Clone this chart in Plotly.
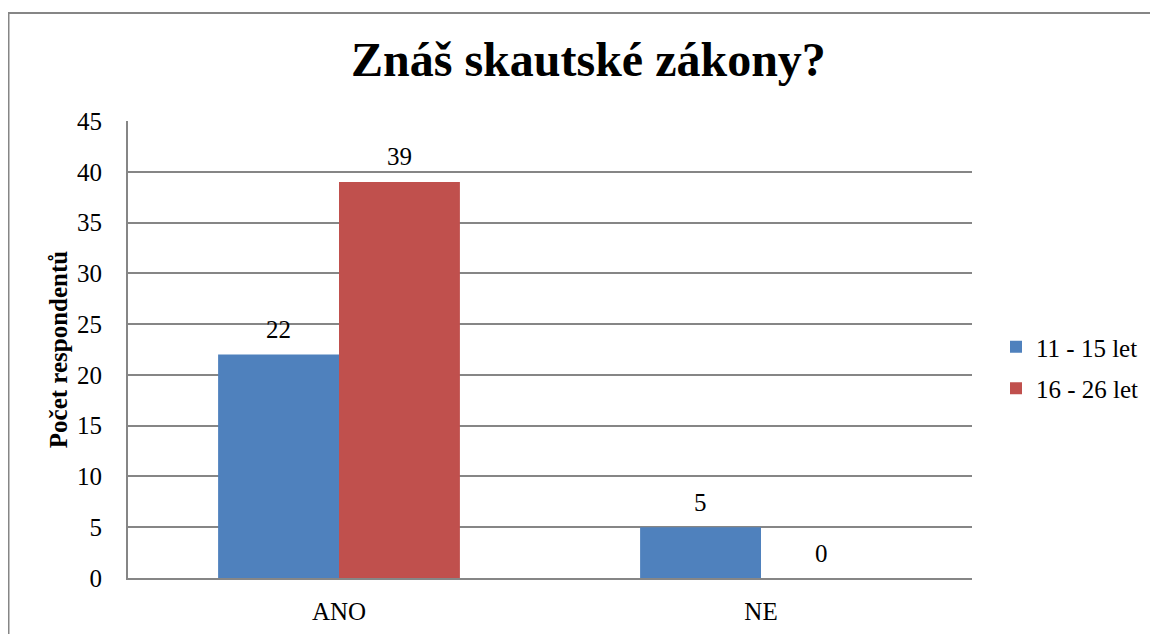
import plotly.graph_objects as go

categories = ["ANO", "NE"]
series_names = ["11 - 15 let", "16 - 26 let"]
values_11_15 = [22, 5]
values_16_26 = [39, 0]
colors = ["#4F81BD", "#C0504D"]
y_ticks = [0, 5, 10, 15, 20, 25, 30, 35, 40, 45]

FONT = "Liberation Serif, Times New Roman, serif"
# page has an 8px body margin: figure occupies page x 8..1158, y 8..634
W, H = 1150, 626
L, R, T, B = 120, 186, 113, 56
pw, ph = W - L - R, H - T - B


def px_x(page_x):
    return (page_x - 8 - L) / pw


def px_y(page_y):
    return (H - B - (page_y - 8)) / ph


fig = go.Figure()
all_series = [values_11_15, values_16_26]
for i, (name, vals, col) in enumerate(zip(series_names, all_series, colors)):
    fig.add_trace(go.Bar(
        x=categories, y=vals, name=name, legendgroup=name,
        marker=dict(color=col, line=dict(width=0)),
    ))

annotations = []
bar_px = 121
for i, vals in enumerate(all_series):
    shift = (i - 0.5) * bar_px
    for cat, v in zip(categories, vals):
        annotations.append(dict(
            x=cat, y=v, xref="x", yref="y", text=str(v), showarrow=False,
            xshift=shift, yshift=25, xanchor="center", yanchor="middle",
            font=dict(family=FONT, size=25, color="black")))

annotations.append(dict(text="<b>Znáš skautské zákony?</b>", xref="paper", yref="paper",
                        x=px_x(588), y=px_y(59), xanchor="center", yanchor="middle",
                        showarrow=False, font=dict(family=FONT, size=48, color="black")))

fig.update_layout(
    width=W, height=H,
    margin=dict(l=L, r=R, t=T, b=B, autoexpand=False),
    paper_bgcolor="white", plot_bgcolor="white",
    barmode="group", bargap=0.427, bargroupgap=0,
    font=dict(family=FONT, color="black", size=25),
    showlegend=True,
    legend=dict(x=px_x(996), y=px_y(324), xanchor="left", yanchor="top",
                font=dict(family=FONT, size=25, color="black"),
                traceorder="grouped", tracegroupgap=6,
                itemwidth=30, bgcolor="rgba(0,0,0,0)"),
    xaxis=dict(showgrid=False, showline=True, linecolor="#868686", linewidth=2,
               ticks="", ticklabelstandoff=10,
               tickfont=dict(family=FONT, size=25, color="black")),
    yaxis=dict(range=[0, 45], tickvals=y_ticks, showgrid=True, gridcolor="#868686",
               gridwidth=1.5, showline=True, linecolor="#868686", linewidth=2,
               ticks="", ticklabelstandoff=19, zeroline=False,
               tickfont=dict(family=FONT, size=25, color="black"),
               title=dict(text="<b>Počet respondentů</b>", standoff=2,
                          font=dict(family=FONT, size=25, color="black"))),
    annotations=annotations,
    shapes=[dict(type="rect", xref="paper", yref="paper",
                 x0=px_x(8.5), x1=px_x(1175), y0=px_y(650), y1=px_y(13),
                 line=dict(color="#868686", width=2), layer="below")],
)

fig.write_html("out.html")
